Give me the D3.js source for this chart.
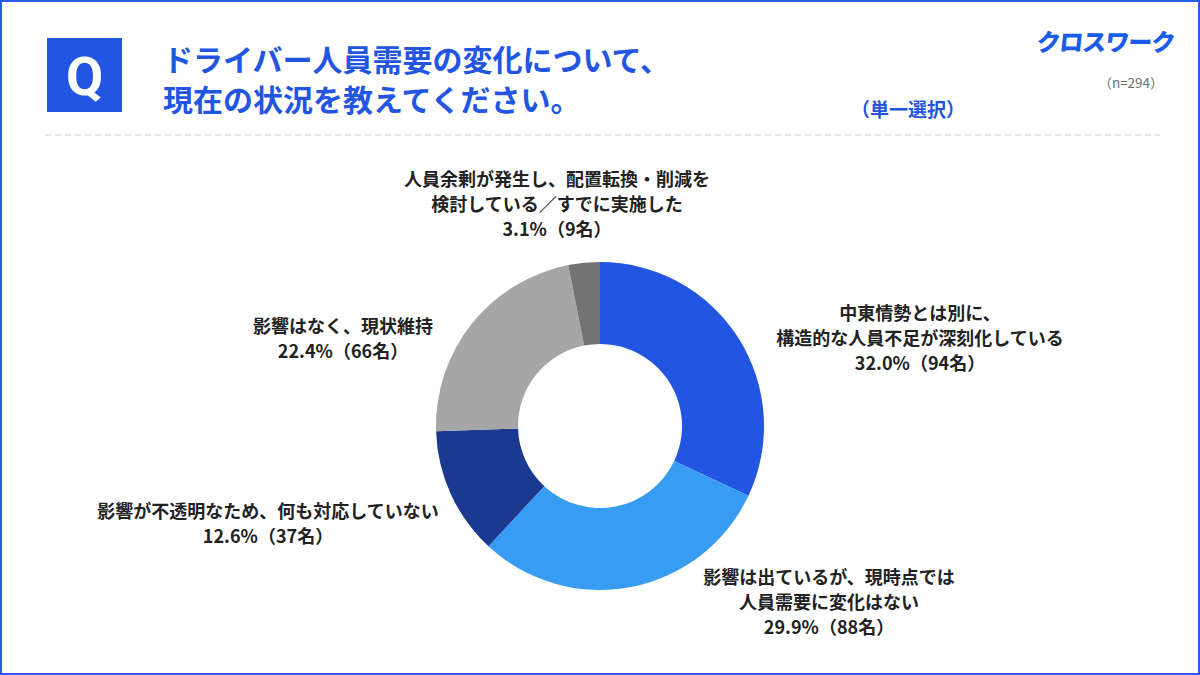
<!DOCTYPE html>
<html>
<head>
<meta charset="utf-8">
<script src="https://cdn.jsdelivr.net/npm/d3@7"></script>
<style>
  html, body { margin: 0; padding: 0; background: #fff; }
  svg { display: block; font-family: "Noto Sans CJK JP", "Noto Sans", sans-serif; }
</style>
</head>
<body>
<div id="chart"></div>
<script>
const categories = [
  '中東情勢とは別に、\n構造的な人員不足が深刻化している',
  '影響は出ているが、現時点では\n人員需要に変化はない',
  '影響が不透明なため、何も対応していない',
  '影響はなく、現状維持',
  '人員余剰が発生し、配置転換・削減を\n検討している／すでに実施した'
];
const percents = [32.0, 29.9, 12.6, 22.4, 3.1];
const counts = [94, 88, 37, 66, 9];
const colors = ['#2355e3', '#379cf2', '#1b3991', '#a6a6a6', '#737373'];

const titleLines = ['ドライバー人員需要の変化について、', '現在の状況を教えてください。'];
const sampleText = '（n=294）';
const answerType = '（単一選択）';
const brand = 'クロスワーク';

const width = 1200, height = 675;
const cx = 600, cy = 426, outerR = 164, innerR = 82;

// where each label block sits (center x, first line y)
const labelPos = [[920, 312], [829, 576], [268, 510], [343, 325], [557, 178]];

const svg = d3.select('#chart').append('svg')
  .attr('width', width)
  .attr('height', height);

svg.append('rect')
  .attr('x', 1).attr('y', 1)
  .attr('width', width - 2).attr('height', height - 2)
  .attr('fill', '#fff')
  .attr('stroke', '#2a5be8')
  .attr('stroke-width', 2);

// header
svg.append('rect')
  .attr('x', 47).attr('y', 38)
  .attr('width', 75).attr('height', 74)
  .attr('fill', '#2355e3');

svg.append('text')
  .attr('x', 84.5).attr('y', 76)
  .attr('text-anchor', 'middle')
  .attr('dominant-baseline', 'central')
  .attr('fill', '#fff')
  .style('font-family', 'Roboto, "Liberation Sans", sans-serif')
  .style('font-size', '54px')
  .style('font-weight', 700)
  .text('Q');

svg.append('g')
  .selectAll('text')
  .data(titleLines)
  .enter()
  .append('text')
  .attr('x', 163)
  .attr('y', (d, i) => 58 + i * 40)
  .attr('dominant-baseline', 'central')
  .attr('fill', '#2355e3')
  .style('font-size', '30px')
  .style('font-weight', 700)
  .text(d => d);

svg.append('text')
  .attr('x', 1106).attr('y', 41)
  .attr('text-anchor', 'middle')
  .attr('dominant-baseline', 'central')
  .attr('fill', '#1a5ce8')
  .attr('transform', 'skewX(-6) translate(4,0)')
  .style('font-size', '24px')
  .style('font-weight', 900)
  .style('letter-spacing', '-1px')
  .text(brand);

svg.append('text')
  .attr('x', 1131).attr('y', 82)
  .attr('text-anchor', 'middle')
  .attr('dominant-baseline', 'central')
  .attr('fill', '#6f6f6f')
  .style('font-size', '13.5px')
  .text(sampleText);

svg.append('text')
  .attr('x', 908).attr('y', 108)
  .attr('text-anchor', 'middle')
  .attr('dominant-baseline', 'central')
  .attr('fill', '#2355e3')
  .style('font-size', '19px')
  .style('font-weight', 700)
  .text(answerType);

svg.append('line')
  .attr('x1', 45).attr('x2', 1160)
  .attr('y1', 135).attr('y2', 135)
  .attr('stroke', '#cfcfcf')
  .attr('stroke-width', 1.2)
  .attr('stroke-dasharray', '6 4');

// donut
const pie = d3.pie().sort(null).value(d => d)(percents);
const arc = d3.arc().innerRadius(innerR).outerRadius(outerR);

svg.append('g')
  .attr('transform', `translate(${cx},${cy})`)
  .selectAll('path')
  .data(pie)
  .enter()
  .append('path')
  .attr('d', arc)
  .attr('fill', (d, i) => colors[i]);

// labels
const labels = svg.append('g')
  .selectAll('g')
  .data(categories)
  .enter()
  .append('g')
  .attr('transform', (d, i) => `translate(${labelPos[i]})`);

labels.selectAll('text')
  .data((d, i) => d.split('\n').concat(`${percents[i].toFixed(1)}%（${counts[i]}名）`))
  .enter()
  .append('text')
  .attr('x', 0)
  .attr('y', (d, i) => i * 25)
  .attr('text-anchor', 'middle')
  .attr('dominant-baseline', 'central')
  .attr('fill', '#222')
  .style('font-size', '18px')
  .style('font-weight', 700)
  .text(d => d);
</script>
</body>
</html>
